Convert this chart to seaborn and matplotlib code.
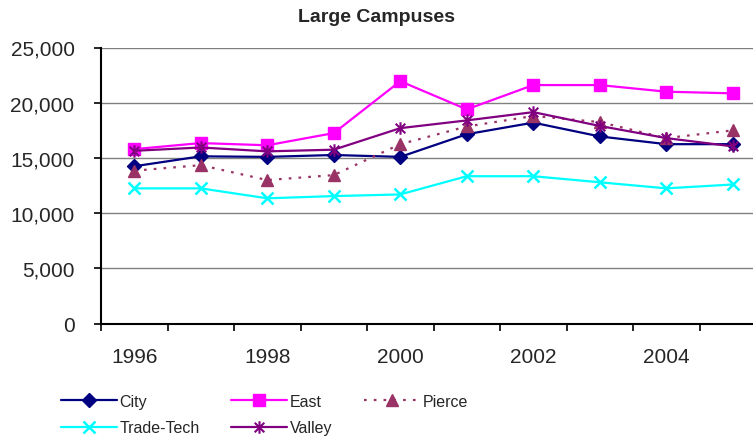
import pandas as pd
import matplotlib
matplotlib.use("Agg")
import matplotlib.pyplot as plt
from matplotlib.path import Path
import seaborn as sns

# datos
years = [1996, 1997, 1998, 1999, 2000, 2001, 2002, 2003, 2004, 2005]
city = [14250, 15150, 15100, 15270, 15100, 17150, 18200, 16950, 16250, 16250]
east = [15800, 16350, 16150, 17250, 21950, 19400, 21600, 21600, 21000, 20850]
pierce = [13850, 14350, 13000, 13450, 16250, 17850, 18800, 18250, 16800, 17500]
trade_tech = [12250, 12250, 11350, 11550, 11700, 13350, 13350, 12800, 12250, 12600]
valley = [15650, 15950, 15600, 15750, 17700, 18400, 19150, 17900, 16800, 16050]
year_labels = ["1996", "1998", "2000", "2002", "2004"]
y_ticks = [0, 5000, 10000, 15000, 20000, 25000]
y_labels = ["0", "5,000", "10,000", "15,000", "20,000", "25,000"]

series = {"City": city, "East": east, "Pierce": pierce,
          "Trade-Tech": trade_tech, "Valley": valley}
rows = []
for name, vals in series.items():
    for i, v in enumerate(vals):
        rows.append({"campus": name, "pos": i, "year": years[i], "students": v})
df = pd.DataFrame(rows)

sns.set_style("white")
plt.rcParams["font.family"] = ["Liberation Sans", "DejaVu Sans"]

# asterisco tipo Excel: una X con una linea vertical
asterisk = Path([(-1, -1), (1, 1), (-1, 1), (1, -1), (0, -1.3), (0, 1.3)],
                [Path.MOVETO, Path.LINETO] * 3)

estilos = {
    "City": dict(color="#000080", marker="D", ms=7, linestyle="-"),
    "East": dict(color="#FF00FF", marker="s", ms=8, linestyle="-"),
    "Pierce": dict(color="#993366", marker="^", ms=9, linestyle=(0, (1.2, 3.2))),
    "Trade-Tech": dict(color="#00FFFF", marker="x", ms=9, linestyle="-", mew=1.8),
    "Valley": dict(color="#800080", marker=asterisk, ms=9, linestyle="-", mew=1.5),
}

fig = plt.figure(figsize=(7.53, 4.39), dpi=100)
ax = fig.add_axes([101 / 753, 1 - 324.7 / 439, 665 / 753, 276.2 / 439])

for name in series:
    st = estilos[name]
    sns.lineplot(data=df[df.campus == name], x="pos", y="students", ax=ax,
                 label=name, color=st["color"], marker=st["marker"],
                 markersize=st["ms"], linestyle=st["linestyle"], linewidth=1.6,
                 markeredgecolor=st["color"], markeredgewidth=st.get("mew", 1),
                 clip_on=False)

ax.set_xlim(-0.5, 9.5)
ax.set_ylim(0, 25000)
ax.set_yticks(y_ticks)
ax.set_yticklabels(y_labels, fontsize=15)
ax.set_xticks([i - 0.5 for i in range(11)])
ax.set_xticklabels([])
ax.set_xticks([0, 2, 4, 6, 8], minor=True)
ax.set_xticklabels(year_labels, minor=True, fontsize=15)
ax.tick_params(axis="x", which="major", bottom=True, direction="out", length=5,
               width=1.2, color="black")
ax.tick_params(axis="x", which="minor", bottom=True, length=0, pad=17)
ax.tick_params(axis="y", left=True, direction="out", length=5, width=1.2,
               color="black", pad=14)
ax.yaxis.grid(True, color="#808080", linewidth=1)
ax.xaxis.grid(False)
ax.set_axisbelow(True)
ax.set_xlabel("")
ax.set_ylabel("")
for s in ["top", "right"]:
    ax.spines[s].set_visible(False)
for s in ["left", "bottom"]:
    ax.spines[s].set_color("black")
    ax.spines[s].set_linewidth(1.5)

fig.text(377 / 753, 1 - 18 / 439, "Large Campuses", ha="center", va="center",
         fontsize=14, fontweight="bold")

# la leyenda se llena por columnas, asi que se reordena
handles, labels = ax.get_legend_handles_labels()
orden = ["City", "Trade-Tech", "East", "Valley", "Pierce"]
h2 = [handles[labels.index(n)] for n in orden]
ax.legend(h2, orden, ncol=3, loc="upper left", bbox_to_anchor=(61 / 753, 1 - 395 / 439),
          bbox_transform=fig.transFigure, frameon=False, fontsize=11.5,
          handlelength=3.5, handletextpad=0.15, columnspacing=2.0, labelspacing=0.72,
          borderpad=0, borderaxespad=0)

fig.savefig("out.png", dpi=100)
